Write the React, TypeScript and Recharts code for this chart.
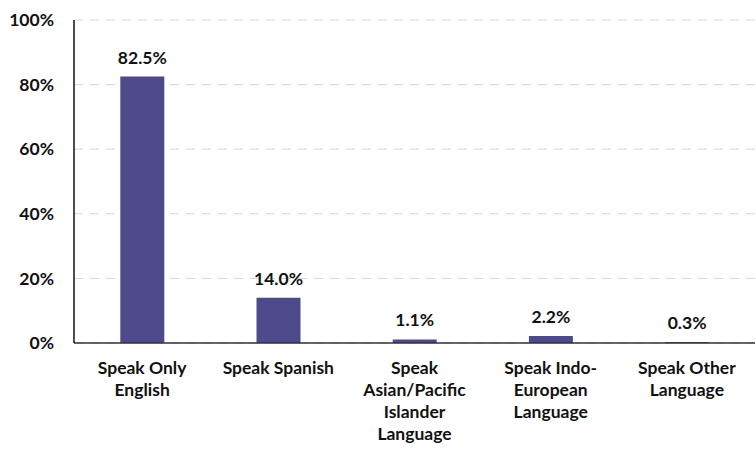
import React from 'react';
import { BarChart, Bar, XAxis, YAxis, CartesianGrid, LabelList } from 'recharts';

// --- Data ---
const categories = ['only_english', 'spanish', 'asian_pacific', 'indo_european', 'other'];
const tickLines: string[][] = [
    ['Speak Only', 'English'],
    ['Speak Spanish'],
    ['Speak', 'Asian/Pacific', 'Islander', 'Language'],
    ['Speak Indo-', 'European', 'Language'],
    ['Speak Other', 'Language'],
];
const shares = [82.5, 14.0, 1.1, 2.2, 0.3];
const yTicks = [0, 20, 40, 60, 80, 100];

const chartData = categories.map((key, i) => ({ key, share: shares[i], idx: i }));

const FONT = 'Lato, "Liberation Sans", sans-serif';
const BAR_COLOR = '#4E4A8A';

// --- Tick kategori multi baris ---
const CategoryTick = (props: any) => {
    const { x, y, payload } = props;
    const lines = tickLines[payload.index] || [payload.value];
    return (
        <g transform={`translate(${x},${y})`}>
            <text textAnchor="middle" fontFamily={FONT} fontWeight={700} fontSize={17.5} fill="#111">
                {lines.map((line, i) => (
                    <tspan key={i} x={0} y={23 + i * 22}>{line}</tspan>
                ))}
            </text>
        </g>
    );
};

const App: React.FC = () => {
    return (
        <div style={{ position: 'absolute', left: 0, top: 0, width: 756, height: 450, background: '#fff' }}>
            <BarChart
                width={756}
                height={450}
                data={chartData}
                margin={{ top: 20, right: 1, left: 0, bottom: 0 }}
                barCategoryGap="34%"
            >
                <CartesianGrid vertical={false} stroke="#D6D6D6" strokeDasharray="9 7" />
                <XAxis
                    dataKey="key"
                    height={107}
                    tickLine={false}
                    axisLine={{ stroke: '#333', strokeWidth: 1.5 }}
                    tick={<CategoryTick />}
                    interval={0}
                />
                <YAxis
                    width={74}
                    domain={[0, 100]}
                    ticks={yTicks}
                    tickLine={false}
                    axisLine={{ stroke: '#111', strokeWidth: 1.5 }}
                    tickMargin={14}
                    tickFormatter={(v: number) => `${v}%`}
                    tick={{ fontFamily: FONT, fontWeight: 700, fontSize: 17.5, fill: '#111' }}
                />
                <Bar dataKey="share" fill={BAR_COLOR} isAnimationActive={false}>
                    <LabelList
                        dataKey="share"
                        position="top"
                        offset={13}
                        formatter={(v: number) => `${v.toFixed(1)}%`}
                        style={{ fontFamily: FONT, fontWeight: 700, fontSize: 17.5, fill: '#111' }}
                    />
                </Bar>
            </BarChart>
        </div>
    );
};

export default App;
